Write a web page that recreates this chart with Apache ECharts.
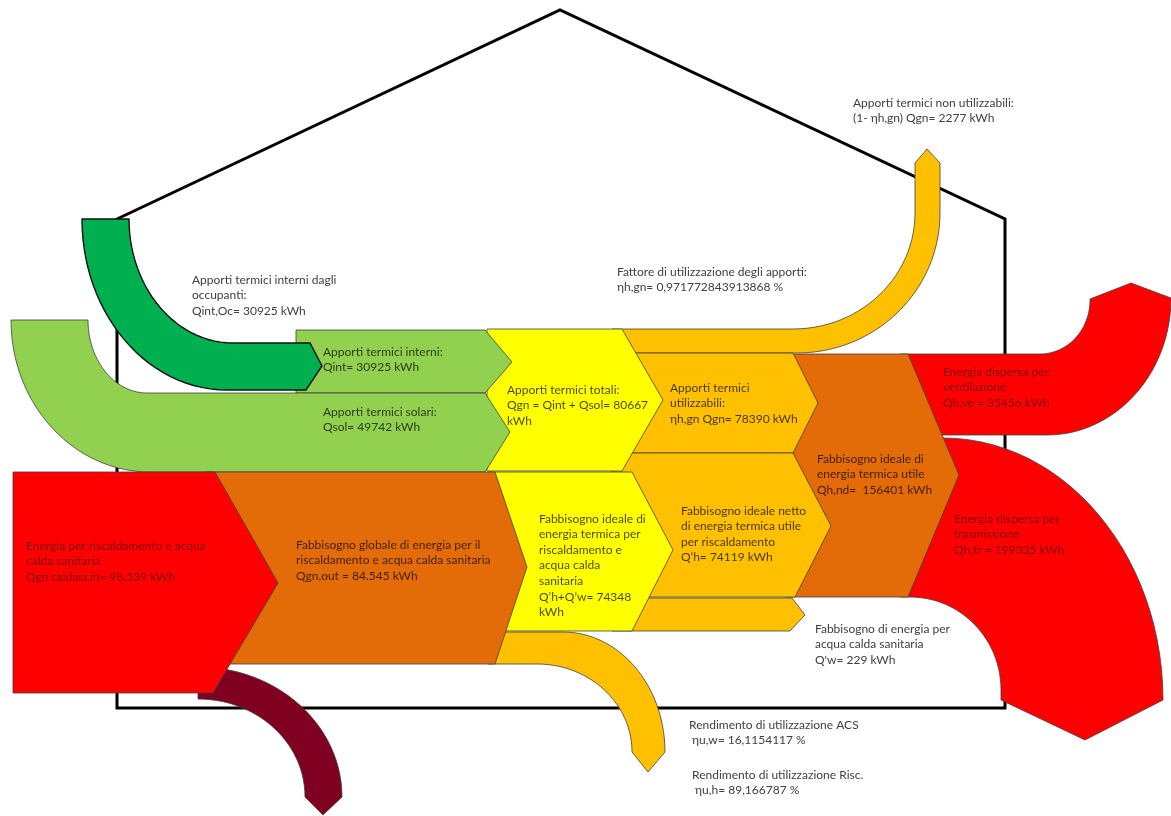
<!DOCTYPE html>
<html>
<head>
<meta charset="utf-8">
<script src="https://cdn.jsdelivr.net/npm/echarts@6/dist/echarts.min.js"></script>
<style>
  html, body { margin: 0; padding: 0; background: #fff; }
  #main { width: 1171px; height: 816px; }
</style>
</head>
<body>
<div id="main"></div>
<script type="text/javascript">
	// testi e valori del bilancio energetico
	var flowTitles = [
		'Apporti termici non utilizzabili:',
		'Fattore di utilizzazione degli apporti:',
		'Apporti termici interni dagli\noccupanti:',
		'Apporti termici interni:',
		'Apporti termici solari:',
		'Apporti termici totali:',
		'Apporti termici\nutilizzabili:',
		'Energia dispersa per\nventilazione',
		'Fabbisogno ideale di\nenergia termica utile',
		'Energia dispersa per\ntrasmissione',
		'Energia per riscaldamento e acqua\ncalda sanitaria',
		'Fabbisogno globale di energia per il\nriscaldamento e acqua calda sanitaria',
		'Fabbisogno ideale di\nenergia termica per\nriscaldamento e\nacqua calda\nsanitaria',
		'Fabbisogno ideale netto\ndi energia termica utile\nper riscaldamento',
		'Fabbisogno di energia per\nacqua calda sanitaria',
		'Rendimento di utilizzazione ACS',
		'Rendimento di utilizzazione Risc.'
	];
	var flowSymbols = ['(1- ηh,gn) Qgn= ', 'ηh,gn= ', 'Qint,Oc= ', 'Qint= ', 'Qsol= ', 'Qgn = Qint + Qsol= ',
		'ηh,gn Qgn= ', 'Qh,ve = ', 'Qh,nd=  ', 'Qh,tr = ', 'Qgn,caldaia,in= ', 'Qgn,out = ',
		'Q’h+Q’w= ', 'Q’h= ', "Q'w= ", ' ηu,w= ', ' ηu,h= '];
	var flowValues = [2277, 0.971772843913868, 30925, 30925, 49742, 80667, 78390, 35456, 156401,
		199335, 98539, 84545, 74348, 74119, 229, 16.1154117, 89.166787];
	var flowUnits = [' kWh', ' %', ' kWh', ' kWh', ' kWh', '\nkWh', ' kWh', ' kWh', ' kWh',
		' kWh', ' kWh', ' kWh', '\nkWh', ' kWh', ' kWh', ' %', ' %'];
	// 'dec' = virgola decimale, 'dot' = punto delle migliaia
	var valueFormats = ['', 'dec', '', '', '', '', '', '', '', '', 'dot', 'dot', '', '', '', 'dec', 'dec'];

	function fmtValue(i) {
		var v = flowValues[i];
		if (valueFormats[i] === 'dec') return String(v).replace('.', ',');
		if (valueFormats[i] === 'dot') return String(v).replace(/\B(?=(\d{3})+(?!\d))/g, '.');
		return String(v);
	}

	// posizione (angolo in alto a sinistra) e colore delle etichette
	var labelPos = [[853, 95], [617, 264], [192, 272], [323, 344], [323, 404], [507, 382], [670, 380],
		[943, 364], [817, 451], [954, 511], [26, 538], [296, 537], [539, 511], [681, 503],
		[815, 621], [689, 717], [692, 767]];
	var TXT_OUT = '#404040', TXT_IN = 'rgba(0,0,0,0.72)', TXT_RED = 'rgba(0,0,0,0.5)';
	var labelColor = [TXT_OUT, TXT_OUT, TXT_OUT, TXT_IN, TXT_IN, TXT_IN, TXT_IN, TXT_RED, TXT_IN,
		TXT_RED, TXT_RED, TXT_IN, TXT_IN, TXT_IN, TXT_OUT, TXT_OUT, TXT_OUT];

	// geometria delle frecce (coordinate del disegno, convertite con api.coord)
	var K = 0.5523;
	function build(cmds) {
		var pts = [];
		cmds.forEach(function (c) {
			var t = c[0], x = c[1], y = c[2];
			if (t === 'M' || t === 'L') { pts.push([x, y]); return; }
			var a = pts[pts.length - 1], c1, c2;
			if (t === 'HV') { c1 = [a[0] + K * (x - a[0]), a[1]]; c2 = [x, y - K * (y - a[1])]; }
			else { c1 = [a[0], a[1] + K * (y - a[1])]; c2 = [x - K * (x - a[0]), y]; }
			for (var i = 1; i <= 28; i++) {
				var u = i / 28, w = 1 - u;
				pts.push([
					w * w * w * a[0] + 3 * w * w * u * c1[0] + 3 * w * u * u * c2[0] + u * u * u * x,
					w * w * w * a[1] + 3 * w * w * u * c1[1] + 3 * w * u * u * c2[1] + u * u * u * y
				]);
			}
		});
		return pts;
	}

	var RED = '#FF0000', DORANGE = '#E36C09', LORANGE = '#FFC000', YELLOW = '#FFFF00',
		LGREEN = '#92D050', GREEN = '#00B050', MAROON = '#800021', EDGE = '#404040';

	var shapes = [
		// casa
		{ fill: 'none', stroke: '#000', lw: 3, cmds: [['M', 117, 219], ['L', 560, 10], ['L', 1005, 219], ['L', 1005, 708], ['L', 117, 708]] },
		// dispersioni per trasmissione
		{ fill: RED, cmds: [['M', 900, 438], ['L', 943, 438], ['HV', 1163, 700], ['L', 1085, 740], ['L', 1001, 700], ['L', 1001, 690], ['VH', 910, 597], ['L', 900, 597]] },
		// dispersioni per ventilazione
		{ fill: RED, cmds: [['M', 900, 354], ['L', 1040, 354], ['HV', 1090, 300], ['L', 1090, 299], ['L', 1131, 283], ['L', 1171, 298], ['VH', 1047, 435], ['L', 900, 435]] },
		// Qh,nd
		{ fill: DORANGE, cmds: [['M', 785, 354], ['L', 908, 354], ['L', 959, 475], ['L', 908, 597], ['L', 785, 597]] },
		// apporti non utilizzabili
		{ fill: LORANGE, cmds: [['M', 612, 329], ['L', 793, 329], ['HV', 915, 213], ['L', 915, 163], ['L', 927, 149], ['L', 940, 163], ['L', 940, 213], ['VH', 797, 353], ['L', 612, 353]] },
		// apporti utilizzabili
		{ fill: LORANGE, cmds: [['M', 612, 353], ['L', 793, 353], ['L', 818, 403], ['L', 793, 453], ['L', 612, 453]] },
		// fabbisogno netto
		{ fill: LORANGE, cmds: [['M', 612, 453], ['L', 793, 453], ['L', 831, 526], ['L', 795, 597], ['L', 612, 597]] },
		// Q'w
		{ fill: LORANGE, cmds: [['M', 612, 598], ['L', 792, 598], ['L', 805, 615], ['L', 790, 631], ['L', 612, 631]] },
		// perdite verso il basso
		{ fill: LORANGE, cmds: [['M', 488, 632], ['L', 563, 632], ['HV', 665, 752], ['L', 648, 772], ['L', 632, 752], ['VH', 537, 664], ['L', 488, 664]] },
		// apporti totali
		{ fill: YELLOW, cmds: [['M', 487, 329], ['L', 622, 329], ['L', 663, 400], ['L', 622, 471], ['L', 487, 471]] },
		// fabbisogno ideale risc. + ACS
		{ fill: YELLOW, cmds: [['M', 488, 472], ['L', 632, 472], ['L', 673, 550], ['L', 632, 631], ['L', 488, 631]] },
		// apporti interni
		{ fill: LGREEN, cmds: [['M', 296, 330], ['L', 485, 330], ['L', 512, 362], ['L', 485, 393], ['L', 296, 393]] },
		// apporti solari
		{ fill: LGREEN, cmds: [['M', 11, 320], ['L', 88, 320], ['VH', 147, 393], ['L', 485, 393], ['L', 510, 432], ['L', 485, 472], ['L', 150, 472], ['HV', 11, 320]] },
		// occupanti
		{ fill: GREEN, stroke: '#111', lw: 1.4, cmds: [['M', 82, 219], ['L', 129, 219], ['VH', 233, 343], ['L', 310, 343], ['L', 322, 366], ['L', 306, 390], ['L', 227, 390], ['HV', 82, 219]] },
		// fabbisogno globale
		{ fill: DORANGE, cmds: [['M', 205, 472], ['L', 495, 472], ['L', 527, 567], ['L', 495, 664], ['L', 205, 664]] },
		// perdite caldaia
		{ fill: MAROON, cmds: [['M', 198, 667], ['HV', 342, 797], ['L', 323, 815], ['L', 305, 797], ['VH', 198, 699]] },
		// energia in ingresso
		{ fill: RED, cmds: [['M', 13, 472], ['L', 215, 472], ['L', 278, 583], ['L', 213, 693], ['L', 13, 693]] }
	];
	shapes.forEach(function (s) { s.pts = build(s.cmds); });

	function renderShape(params, api) {
		var s = shapes[params.dataIndex];
		var pts = s.pts.map(function (p) { return api.coord(p); });
		return {
			type: 'polygon',
			shape: { points: pts },
			style: { fill: s.fill, stroke: s.stroke || EDGE, lineWidth: s.lw || 0.8, lineJoin: 'miter' }
		};
	}

	function renderLabel(params, api) {
		var i = params.dataIndex;
		var p = api.coord(labelPos[i]);
		return {
			type: 'text',
			x: p[0],
			y: p[1],
			style: {
				text: flowTitles[i] + '\n' + flowSymbols[i] + fmtValue(i) + flowUnits[i],
				fill: labelColor[i],
				fontFamily: 'Lato',
				fontSize: 12,
				lineHeight: 15.6,
				verticalAlign: 'top',
				align: 'left'
			}
		};
	}

	var myChart = echarts.init(document.getElementById('main'));
	var option = {
		animation: false,
		grid: { left: 0, right: 0, top: 0, bottom: 0 },
		xAxis: { type: 'value', min: 0, max: 1171, show: false },
		yAxis: { type: 'value', min: 0, max: 816, inverse: true, show: false },
		series: [
			{
				type: 'custom',
				silent: true,
				clip: false,
				renderItem: renderShape,
				data: shapes.map(function (s, i) { return [i, 0]; }),
				z: 1
			},
			{
				type: 'custom',
				silent: true,
				clip: false,
				renderItem: renderLabel,
				data: flowTitles.map(function (t, i) { return [i, 0]; }),
				z: 2
			}
		]
	};
	myChart.setOption(option, true);
</script>
</body>
</html>
